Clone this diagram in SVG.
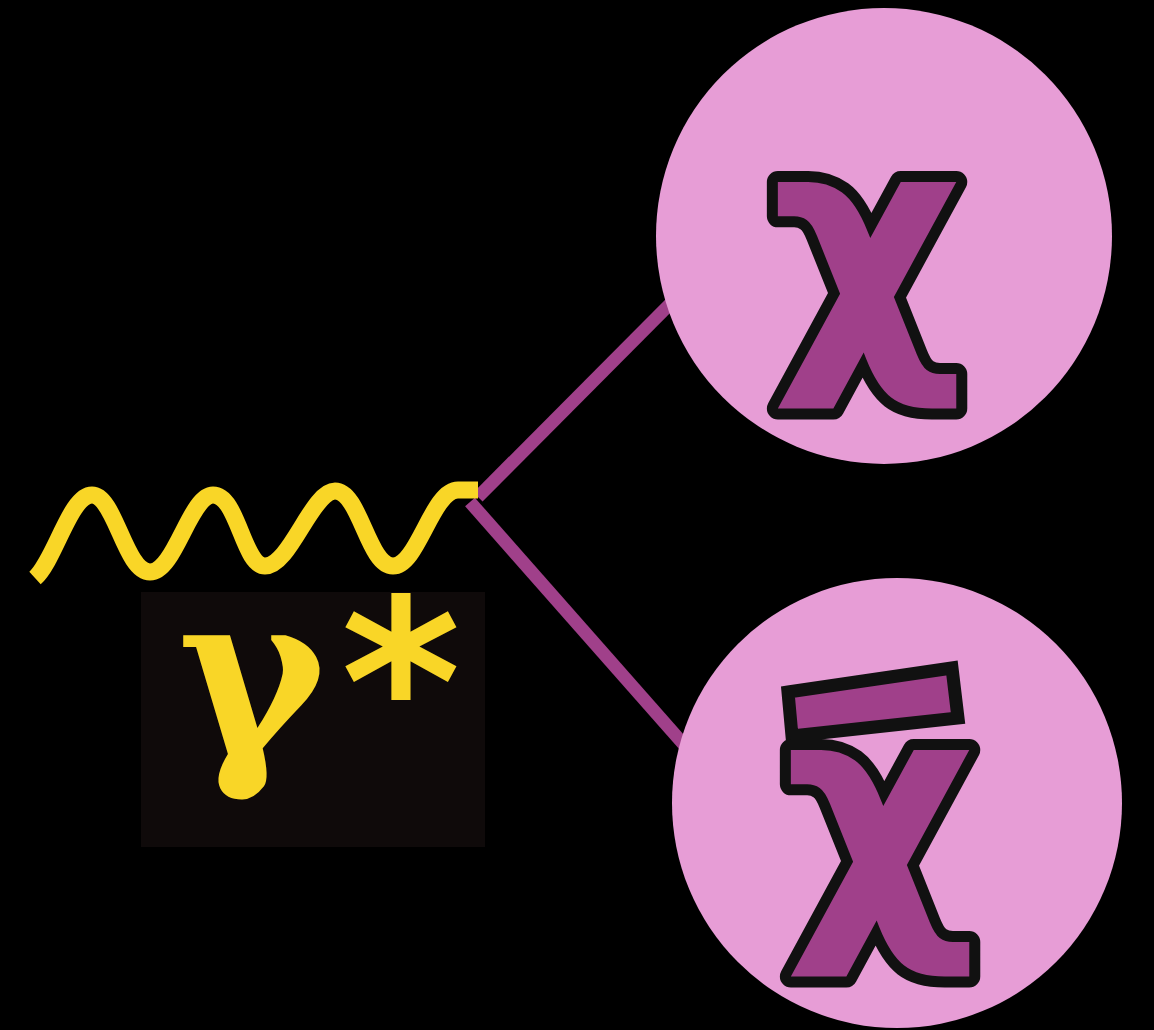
<svg xmlns="http://www.w3.org/2000/svg" width="1154" height="1030" viewBox="0 0 1154 1030">
<style>
.bubble{fill:#e79dd6}
.prop{fill:none;stroke:#a0408a;stroke-width:13;stroke-linecap:butt}
.wave{fill:none;stroke:#f9d627;stroke-width:17;stroke-linecap:butt}
.chi{font-family:"DejaVu Sans",sans-serif;font-weight:bold;fill:#a0408a;stroke:#111;stroke-width:22;stroke-linejoin:round;paint-order:stroke}
.gam{font-family:"DejaVu Serif",serif;font-weight:bold;fill:#f9d627}
</style>
<rect width="1154" height="1030" fill="#000"/>
<g id="connectors">
<line class="prop" x1="478" y1="497" x2="672" y2="302"/>
<line class="prop" x1="470" y1="502" x2="686" y2="747"/>
<path class="wave" d="M35,578 C55,560 70,495 92,495 C115,495 125,572 150,572 C175,572 190,495 213,495 C238,495 243,566 265,566 C290,566 312,491 335,491 C360,491 368,566 393,566 C418,566 432,490 458,490 L478,490"/>
</g>
<g id="chi">
<circle class="bubble" cx="884" cy="236" r="228"/>
<text class="chi" x="867" y="346" font-size="300" text-anchor="middle">χ</text>
</g>
<g id="chibar">
<circle class="bubble" cx="897" cy="803" r="225"/>
<polygon points="788,692 952,668 958,718 792,736" fill="#a0408a" stroke="#111" stroke-width="13" stroke-linejoin="miter"/>
<text class="chi" x="880" y="914" font-size="300" text-anchor="middle">χ</text>
</g>
<g id="photon-label">
<rect x="141" y="592" width="344" height="255" fill="#0f0a0a"/>
<text class="gam" y="752" font-size="225" text-anchor="middle"><tspan x="252">γ</tspan><tspan x="401" y="764" font-size="230" font-family="DejaVu Sans, sans-serif">*</tspan></text>
</g>
</svg>
